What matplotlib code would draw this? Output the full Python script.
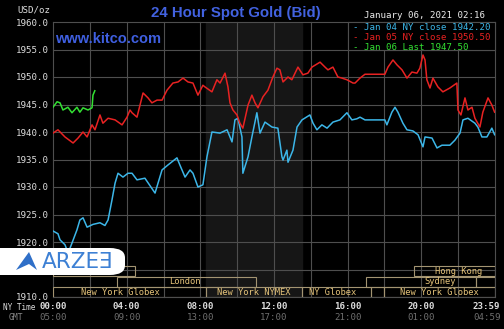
import matplotlib.pyplot as plt
from matplotlib.patches import Rectangle, FancyBboxPatch, Polygon
from matplotlib.transforms import blended_transform_factory

W, H = 504, 329
MONO = 'DejaVu Sans Mono'

# Jan 04 (cyan) - hours NY time / price
jan04_hours = [0.00, 0.27, 0.38, 0.65, 0.82, 1.03, 1.30, 1.46, 1.63, 1.85, 2.17, 2.55, 2.82, 2.99,
               3.20, 3.37, 3.53, 3.80, 4.07, 4.29, 4.56, 4.99, 5.54, 5.92, 6.24, 6.73, 6.89, 7.17,
               7.44, 7.60, 7.87, 8.14, 8.36, 8.63, 9.07, 9.45, 9.72, 9.88, 10.04, 10.26, 10.31,
               10.59, 10.80, 11.07, 11.24, 11.51, 11.89, 12.21, 12.43, 12.49, 12.70, 12.76, 13.03,
               13.25, 13.52, 13.95, 14.12, 14.33, 14.60, 14.88, 15.20, 15.58, 15.96, 16.23, 16.50,
               16.67, 16.94, 18.02, 18.13, 18.40, 18.57, 18.73, 19.00, 19.22, 19.54, 19.82, 20.09,
               20.20, 20.58, 20.85, 21.12, 21.55, 21.82, 22.10, 22.26, 22.53, 22.91, 23.07, 23.29,
               23.56, 23.83, 23.98]
jan04_price = [1922.0, 1921.5, 1920.4, 1919.5, 1918.0, 1919.8, 1922.2, 1924.0, 1924.4, 1922.7,
               1923.2, 1923.5, 1923.0, 1924.0, 1927.6, 1930.7, 1932.5, 1931.8, 1932.5, 1932.5,
               1931.3, 1931.6, 1928.9, 1933.1, 1934.0, 1935.3, 1934.0, 1931.8, 1933.1, 1932.5,
               1930.0, 1930.4, 1935.5, 1940.0, 1939.8, 1940.4, 1938.2, 1942.2, 1942.5, 1939.1,
               1932.5, 1935.5, 1939.1, 1943.5, 1939.8, 1941.8, 1940.9, 1940.7, 1935.5, 1934.9,
               1936.7, 1934.5, 1936.7, 1940.9, 1942.2, 1943.1, 1941.6, 1940.4, 1941.3, 1940.7,
               1941.8, 1942.2, 1943.5, 1942.2, 1942.4, 1942.7, 1942.2, 1942.2, 1941.3, 1943.6,
               1944.5, 1943.6, 1941.6, 1940.4, 1940.2, 1939.5, 1937.3, 1939.1, 1938.9, 1937.1,
               1937.6, 1937.6, 1938.5, 1939.8, 1942.2, 1942.5, 1941.6, 1940.9, 1939.1, 1939.1,
               1940.7, 1939.5]

# Jan 05 (red)
jan05_hours = [0.00, 0.27, 0.65, 1.09, 1.36, 1.63, 1.85, 2.12, 2.28, 2.55, 2.71, 2.99, 3.37, 3.75,
               4.02, 4.18, 4.29, 4.56, 4.89, 5.16, 5.37, 5.65, 5.92, 6.19, 6.51, 6.79, 7.06, 7.33,
               7.60, 7.87, 8.14, 8.25, 8.63, 8.90, 9.07, 9.34, 9.50, 9.61, 9.77, 9.99, 10.15,
               10.31, 10.59, 10.80, 10.97, 11.13, 11.40, 11.67, 11.94, 12.16, 12.32, 12.49, 12.76,
               12.97, 13.30, 13.57, 13.84, 14.06, 14.50, 14.77, 14.93, 15.20, 15.47, 15.69, 15.96,
               16.29, 16.40, 16.67, 16.94, 18.02, 18.19, 18.46, 18.68, 18.95, 19.22, 19.49, 19.76,
               19.92, 20.09, 20.20, 20.30, 20.47, 20.63, 20.90, 21.17, 21.55, 21.93, 21.99, 22.15,
               22.37, 22.53, 22.75, 22.91, 23.18, 23.34, 23.62, 23.83, 23.98]
jan05_price = [1939.8, 1940.4, 1939.1, 1938.0, 1938.9, 1940.0, 1939.1, 1941.3, 1940.4, 1943.1,
               1941.6, 1942.5, 1942.2, 1941.3, 1942.7, 1944.0, 1943.5, 1942.7, 1947.1, 1946.2,
               1945.3, 1945.8, 1945.8, 1947.6, 1948.9, 1949.1, 1949.8, 1949.1, 1948.9, 1946.7,
               1948.5, 1948.2, 1947.3, 1949.5, 1948.9, 1950.7, 1948.2, 1945.3, 1944.0, 1943.1,
               1941.6, 1940.7, 1944.9, 1946.7, 1945.3, 1944.4, 1946.4, 1947.6, 1950.0, 1951.6,
               1951.3, 1949.1, 1950.0, 1949.5, 1951.8, 1950.4, 1950.7, 1951.8, 1952.7, 1951.8,
               1951.3, 1951.8, 1950.0, 1949.8, 1949.5, 1948.9, 1948.9, 1949.8, 1950.5, 1950.5,
               1951.8, 1953.1, 1952.2, 1951.3, 1949.8, 1950.9, 1950.7, 1951.6, 1954.0, 1953.1,
               1949.5, 1948.0, 1949.8, 1948.2, 1947.3, 1948.0, 1948.9, 1944.0, 1943.1, 1946.2,
               1944.0, 1944.5, 1942.5, 1940.9, 1943.6, 1946.2, 1944.9, 1943.6]

# Jan 06 (green)
jan06_hours = [0.00, 0.22, 0.38, 0.54, 0.81, 1.03, 1.30, 1.46, 1.63, 1.90, 2.12, 2.17, 2.27]
jan06_price = [1944.5, 1945.5, 1945.3, 1944.0, 1944.5, 1943.5, 1944.5, 1943.6, 1944.4, 1944.0,
               1944.4, 1946.7, 1947.5]

ny_ticks = [0, 4, 8, 12, 16, 20, 23.55]
ny_labels = ['00:00', '04:00', '08:00', '12:00', '16:00', '20:00', '23:59']
gmt_labels = ['05:00', '09:00', '13:00', '17:00', '21:00', '01:00', '04:59']

# trading sessions: (start, end, row, label, label hour)
sessions = [
    (0.0, 8.33, 0, 'New York Globex', 3.64),
    (8.33, 13.5, 0, 'New York NYMEX', 10.9),
    (13.5, 17.25, 0, 'NY Globex', 15.2),
    (17.25, 18.0, 0, '', None),
    (18.0, 24.0, 0, 'New York Globex', 21.0),
    (3.5, 11.0, 1, 'London', 7.17),
    (17.0, 22.96, 1, 'Sydney', 21.0),
    (22.96, 24.0, 1, '', None),
    (0.0, 4.45, 2, '', None),
    (19.6, 24.0, 2, 'Hong Kong', 22.0),
]

legend_items = [('- Jan 04 NY close 1942.20', '#3cb6e8'),
                ('- Jan 05 NY close 1950.50', '#e82222'),
                ('- Jan 06 Last 1947.50', '#33e033')]


def fx(x):
    return x / W


def fy(y):
    return 1 - y / H


fig = plt.figure(figsize=(W / 100, H / 100), dpi=100, facecolor='black')
ax = fig.add_axes([53 / W, 32 / H, 442 / W, 275 / H])
ax.set_facecolor('black')
ax.set_xlim(0, 24)
ax.set_ylim(1910, 1960)
for s in ax.spines.values():
    s.set_visible(False)

ax.axvspan(8.33, 13.5, color='#161616', zorder=0)

ax.set_xticks(range(0, 25, 2))
ax.set_xticklabels([])
yt = list(range(1910, 1961, 5))
ax.set_yticks(yt)
ax.set_yticklabels(['' if v == 1915 else f'{v:.1f}' for v in yt],
                   family=MONO, fontsize=6.6, color='#dcdcdc')
ax.tick_params(length=0, pad=3)
ax.grid(color='#4e4e4e', lw=0.8)
for ln in ax.get_xgridlines() + ax.get_ygridlines():
    ln.set_clip_on(False)

ax.plot(jan04_hours, jan04_price, color='#3cb6e8', lw=1.1, zorder=2)
ax.plot(jan05_hours, jan05_price, color='#e82222', lw=1.1, zorder=2)
ax.plot(jan06_hours, jan06_price, color='#33e033', lw=1.1, zorder=2)

# legend box
ax.add_patch(Rectangle((16, 1955), 8, 5, facecolor='black', edgecolor='#4e4e4e',
                       lw=0.8, zorder=3, clip_on=False))
for i, (txt, c) in enumerate(legend_items):
    fig.text(fx(353), fy(27 + 10.3 * i), txt, family=MONO, fontsize=6.6, color=c,
             va='center', ha='left', zorder=4)

# session boxes
trans = blended_transform_factory(ax.transData, ax.transAxes)
row_h = 0.035
row_gap = 0.038
for start, end, row, label, lh in sessions:
    y0 = row * row_gap
    ax.add_patch(Rectangle((start, y0), end - start, row_h, transform=trans, fill=False,
                           edgecolor='#a39472', lw=0.8, zorder=3))
    if label:
        ax.text(lh, y0 + row_h / 2, label, transform=trans, family=MONO, fontsize=6.3,
                color='#e6c47a', ha='center', va='center', zorder=4)

# x tick labels (NY time / GMT)
for h, a, b in zip(ny_ticks, ny_labels, gmt_labels):
    ax.text(h, -0.035, a, transform=trans, family=MONO, weight='bold', fontsize=6.6,
            color='#dcdcdc', ha='center', va='center')
    ax.text(h, -0.075, b, transform=trans, family=MONO, fontsize=6.6, color='#6e6e6e',
            ha='center', va='center')
fig.text(fx(3), fy(307), 'NY Time', family=MONO, fontsize=5.6, color='#dcdcdc', va='center')
fig.text(fx(9), fy(318), 'GMT', family=MONO, fontsize=5.8, color='#8a8a8a', va='center')

# header texts
fig.text(fx(17), fy(10), 'USD/oz', family=MONO, fontsize=6.6, color='#dcdcdc', va='center')
fig.text(fx(236), fy(13), '24 Hour Spot Gold (Bid)', family='Liberation Sans',
         weight='bold', fontsize=10.8, color='#4262e0', ha='center', va='center')
fig.text(fx(55), fy(39), 'www.kitco.com', family='Liberation Sans', weight='bold',
         fontsize=10.5, color='#3f5fe0', ha='left', va='center')
fig.text(fx(425), fy(16), 'January 06, 2021 02:16', family=MONO, fontsize=6.6,
         color='#ececec', ha='center', va='center')

# ARZEE watermark
fig.patches.append(FancyBboxPatch((fx(-20), fy(275)), fx(145), 27 / H,
                                  boxstyle='round,pad=0,rounding_size=0.03',
                                  transform=fig.transFigure, facecolor='white',
                                  edgecolor='none', zorder=5))
fig.patches.append(Polygon([(fx(16), fy(270)), (fx(29), fy(252)), (fx(37), fy(270)),
                            (fx(29), fy(264))], closed=True, transform=fig.transFigure,
                           facecolor='#2f6fc8', edgecolor='none', zorder=6))
fig.text(fx(42), fy(262), 'ARZEƎ', family='DejaVu Sans', fontsize=15.5, color='#3d80d4',
         ha='left', va='center', zorder=7)

fig.savefig('out.png', dpi=100, facecolor='black')
